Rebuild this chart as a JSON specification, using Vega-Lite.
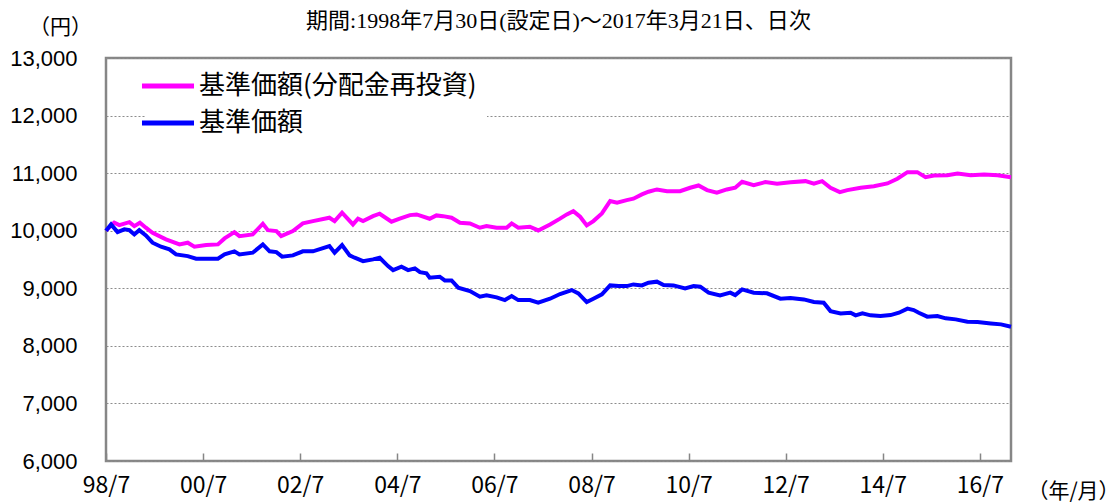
{
  "$schema": "https://vega.github.io/schema/vega-lite/v6.json",
  "width": 905,
  "height": 403,
  "autosize": {"type": "none"},
  "padding": {"left": 106, "top": 58, "right": 108, "bottom": 41},
  "background": "white",
  "title": {
    "text": "期間:1998年7月30日(設定日)～2017年3月21日、日次",
    "font": "Liberation Serif, Noto Sans CJK JP",
    "fontSize": 22,
    "fontWeight": "normal",
    "color": "#000000",
    "anchor": "middle",
    "frame": "group",
    "offset": -17
  },
  "config": {
    "view": {"stroke": "#868686", "strokeWidth": 2.5},
    "axis": {"gridColor": "#8c8c8c", "gridDash": [2, 2], "gridWidth": 1, "labelColor": "#000000", "titleColor": "#000000"}
  },
  "datasets": {
    "reinvest": [
      {"date": "1998-07-30", "price": 10000},
      {"date": "1998-09-06", "price": 10090},
      {"date": "1998-09-30", "price": 10139},
      {"date": "1998-11-07", "price": 10097},
      {"date": "1999-01-22", "price": 10149},
      {"date": "1999-02-28", "price": 10080},
      {"date": "1999-04-11", "price": 10139},
      {"date": "1999-05-26", "price": 10052},
      {"date": "1999-07-15", "price": 9965},
      {"date": "1999-10-24", "price": 9849},
      {"date": "2000-02-03", "price": 9762},
      {"date": "2000-04-05", "price": 9792},
      {"date": "2000-05-25", "price": 9722},
      {"date": "2000-08-22", "price": 9750},
      {"date": "2000-11-18", "price": 9762},
      {"date": "2001-01-07", "price": 9866},
      {"date": "2001-03-22", "price": 9976},
      {"date": "2001-04-29", "price": 9906},
      {"date": "2001-08-07", "price": 9936},
      {"date": "2001-10-22", "price": 10121},
      {"date": "2001-11-29", "price": 10010},
      {"date": "2002-02-01", "price": 9993},
      {"date": "2002-03-09", "price": 9906},
      {"date": "2002-06-05", "price": 9993},
      {"date": "2002-08-19", "price": 10127},
      {"date": "2002-11-03", "price": 10167},
      {"date": "2003-03-07", "price": 10226},
      {"date": "2003-04-15", "price": 10167},
      {"date": "2003-06-10", "price": 10312},
      {"date": "2003-08-31", "price": 10109},
      {"date": "2003-10-08", "price": 10208},
      {"date": "2003-11-15", "price": 10167},
      {"date": "2004-01-29", "price": 10253},
      {"date": "2004-03-19", "price": 10295},
      {"date": "2004-06-16", "price": 10156},
      {"date": "2004-08-17", "price": 10208},
      {"date": "2004-11-02", "price": 10271},
      {"date": "2004-12-22", "price": 10283},
      {"date": "2005-03-30", "price": 10208},
      {"date": "2005-05-20", "price": 10266},
      {"date": "2005-07-09", "price": 10253},
      {"date": "2005-09-11", "price": 10226},
      {"date": "2005-11-13", "price": 10139},
      {"date": "2006-01-27", "price": 10127},
      {"date": "2006-04-12", "price": 10052},
      {"date": "2006-06-01", "price": 10080},
      {"date": "2006-08-16", "price": 10052},
      {"date": "2006-10-30", "price": 10052},
      {"date": "2006-12-07", "price": 10127},
      {"date": "2007-01-26", "price": 10052},
      {"date": "2007-04-23", "price": 10069},
      {"date": "2007-06-25", "price": 10005},
      {"date": "2007-09-22", "price": 10109},
      {"date": "2007-12-06", "price": 10210},
      {"date": "2008-01-26", "price": 10283},
      {"date": "2008-03-15", "price": 10340},
      {"date": "2008-05-05", "price": 10243},
      {"date": "2008-06-24", "price": 10092},
      {"date": "2008-08-13", "price": 10167},
      {"date": "2008-10-16", "price": 10300},
      {"date": "2008-12-17", "price": 10514},
      {"date": "2009-02-07", "price": 10486},
      {"date": "2009-04-21", "price": 10531},
      {"date": "2009-06-10", "price": 10556},
      {"date": "2009-08-13", "price": 10630},
      {"date": "2009-10-02", "price": 10677},
      {"date": "2009-12-04", "price": 10717},
      {"date": "2010-02-18", "price": 10687},
      {"date": "2010-05-27", "price": 10687},
      {"date": "2010-08-11", "price": 10746},
      {"date": "2010-10-13", "price": 10786},
      {"date": "2010-12-16", "price": 10705},
      {"date": "2011-02-28", "price": 10660},
      {"date": "2011-05-14", "price": 10717},
      {"date": "2011-07-16", "price": 10746},
      {"date": "2011-09-06", "price": 10850},
      {"date": "2011-12-02", "price": 10792},
      {"date": "2012-02-28", "price": 10844},
      {"date": "2012-05-26", "price": 10816},
      {"date": "2012-09-04", "price": 10840},
      {"date": "2012-12-26", "price": 10861},
      {"date": "2013-02-27", "price": 10816},
      {"date": "2013-04-30", "price": 10861},
      {"date": "2013-07-02", "price": 10746},
      {"date": "2013-09-10", "price": 10670},
      {"date": "2013-11-06", "price": 10705},
      {"date": "2014-02-14", "price": 10746},
      {"date": "2014-05-24", "price": 10774},
      {"date": "2014-09-03", "price": 10821},
      {"date": "2014-11-17", "price": 10903},
      {"date": "2015-02-01", "price": 11017},
      {"date": "2015-04-16", "price": 11017},
      {"date": "2015-06-17", "price": 10930},
      {"date": "2015-08-19", "price": 10960},
      {"date": "2015-11-28", "price": 10965},
      {"date": "2016-02-13", "price": 10995},
      {"date": "2016-05-22", "price": 10965},
      {"date": "2016-08-31", "price": 10977},
      {"date": "2016-12-10", "price": 10965},
      {"date": "2017-03-21", "price": 10930}
    ],
    "nav": [
      {"date": "1998-07-30", "price": 10000},
      {"date": "1998-09-06", "price": 10109},
      {"date": "1998-10-25", "price": 9976},
      {"date": "1998-12-15", "price": 10023},
      {"date": "1999-01-22", "price": 10010},
      {"date": "1999-02-28", "price": 9936},
      {"date": "1999-04-06", "price": 10010},
      {"date": "1999-05-26", "price": 9918},
      {"date": "1999-07-15", "price": 9792},
      {"date": "1999-09-17", "price": 9722},
      {"date": "1999-11-19", "price": 9675},
      {"date": "2000-01-08", "price": 9589},
      {"date": "2000-04-05", "price": 9559},
      {"date": "2000-06-07", "price": 9514},
      {"date": "2000-09-16", "price": 9514},
      {"date": "2000-11-18", "price": 9514},
      {"date": "2001-01-07", "price": 9589},
      {"date": "2001-03-22", "price": 9642},
      {"date": "2001-04-29", "price": 9589},
      {"date": "2001-08-07", "price": 9618},
      {"date": "2001-10-22", "price": 9762},
      {"date": "2001-12-12", "price": 9642},
      {"date": "2002-02-01", "price": 9628},
      {"date": "2002-03-16", "price": 9549},
      {"date": "2002-06-05", "price": 9571},
      {"date": "2002-08-19", "price": 9642},
      {"date": "2002-11-03", "price": 9642},
      {"date": "2003-03-07", "price": 9733},
      {"date": "2003-04-15", "price": 9618},
      {"date": "2003-06-10", "price": 9750},
      {"date": "2003-08-06", "price": 9571},
      {"date": "2003-09-13", "price": 9531},
      {"date": "2003-11-15", "price": 9472},
      {"date": "2004-01-29", "price": 9502},
      {"date": "2004-03-19", "price": 9531},
      {"date": "2004-05-21", "price": 9385},
      {"date": "2004-06-28", "price": 9316},
      {"date": "2004-08-30", "price": 9375},
      {"date": "2004-10-19", "price": 9316},
      {"date": "2004-12-09", "price": 9346},
      {"date": "2005-01-16", "price": 9281},
      {"date": "2005-03-06", "price": 9259},
      {"date": "2005-03-30", "price": 9184},
      {"date": "2005-06-14", "price": 9201},
      {"date": "2005-07-22", "price": 9137},
      {"date": "2005-09-11", "price": 9137},
      {"date": "2005-10-31", "price": 9010},
      {"date": "2006-01-27", "price": 8951},
      {"date": "2006-04-12", "price": 8854},
      {"date": "2006-06-01", "price": 8877},
      {"date": "2006-08-16", "price": 8842},
      {"date": "2006-10-17", "price": 8795},
      {"date": "2006-12-07", "price": 8865},
      {"date": "2007-01-26", "price": 8795},
      {"date": "2007-04-23", "price": 8795},
      {"date": "2007-06-25", "price": 8750},
      {"date": "2007-09-22", "price": 8819},
      {"date": "2007-12-06", "price": 8900},
      {"date": "2008-03-03", "price": 8969},
      {"date": "2008-04-22", "price": 8912},
      {"date": "2008-06-24", "price": 8761},
      {"date": "2008-08-13", "price": 8819},
      {"date": "2008-10-16", "price": 8894},
      {"date": "2008-12-17", "price": 9050},
      {"date": "2009-02-19", "price": 9038},
      {"date": "2009-04-21", "price": 9038},
      {"date": "2009-06-10", "price": 9067},
      {"date": "2009-08-13", "price": 9050},
      {"date": "2009-10-02", "price": 9097},
      {"date": "2009-12-04", "price": 9115},
      {"date": "2010-01-23", "price": 9056},
      {"date": "2010-04-08", "price": 9050},
      {"date": "2010-07-04", "price": 8998},
      {"date": "2010-09-06", "price": 9038},
      {"date": "2010-10-26", "price": 9028},
      {"date": "2010-12-28", "price": 8924},
      {"date": "2011-03-24", "price": 8877},
      {"date": "2011-06-09", "price": 8924},
      {"date": "2011-07-16", "price": 8882},
      {"date": "2011-09-06", "price": 8981},
      {"date": "2011-12-02", "price": 8924},
      {"date": "2012-03-11", "price": 8912},
      {"date": "2012-06-20", "price": 8819},
      {"date": "2012-09-04", "price": 8830},
      {"date": "2012-12-13", "price": 8807},
      {"date": "2013-02-27", "price": 8761},
      {"date": "2013-05-12", "price": 8750},
      {"date": "2013-07-02", "price": 8604},
      {"date": "2013-09-16", "price": 8564},
      {"date": "2013-11-30", "price": 8576},
      {"date": "2014-01-07", "price": 8530},
      {"date": "2014-02-27", "price": 8564},
      {"date": "2014-04-29", "price": 8530},
      {"date": "2014-07-13", "price": 8518},
      {"date": "2014-09-27", "price": 8535},
      {"date": "2014-11-29", "price": 8576},
      {"date": "2015-02-01", "price": 8646},
      {"date": "2015-03-20", "price": 8622},
      {"date": "2015-04-27", "price": 8576},
      {"date": "2015-06-30", "price": 8507},
      {"date": "2015-09-14", "price": 8518},
      {"date": "2015-11-16", "price": 8478},
      {"date": "2016-01-30", "price": 8460},
      {"date": "2016-04-27", "price": 8420},
      {"date": "2016-07-12", "price": 8413},
      {"date": "2016-10-20", "price": 8390},
      {"date": "2017-01-05", "price": 8373},
      {"date": "2017-03-21", "price": 8333}
    ]
  },
  "encoding": {
    "x": {
      "field": "date",
      "type": "temporal",
      "scale": {"type": "utc", "domain": [{"year": 1998, "month": 7, "date": 30, "utc": true}, {"year": 2017, "month": 3, "date": 21, "utc": true}], "nice": false},
      "axis": {
        "values": [
          {"year": 1998, "month": 7, "date": 30, "utc": true},
          {"year": 2000, "month": 7, "date": 30, "utc": true},
          {"year": 2002, "month": 7, "date": 30, "utc": true},
          {"year": 2004, "month": 7, "date": 30, "utc": true},
          {"year": 2006, "month": 7, "date": 30, "utc": true},
          {"year": 2008, "month": 7, "date": 30, "utc": true},
          {"year": 2010, "month": 7, "date": 30, "utc": true},
          {"year": 2012, "month": 7, "date": 30, "utc": true},
          {"year": 2014, "month": 7, "date": 30, "utc": true},
          {"year": 2016, "month": 7, "date": 30, "utc": true}
        ],
        "labelExpr": "utcFormat(datum.value, '%y/%-m')",
        "grid": false,
        "domain": false,
        "tickSize": -8,
        "tickColor": "#868686",
        "tickWidth": 1.5,
        "labelFont": "Noto Sans CJK JP",
        "labelFontSize": 23,
        "labelPadding": 21,
        "labelFlush": false,
        "labelOverlap": false,
        "title": "（年/月）",
        "titleFont": "Noto Sans CJK JP",
        "titleFontSize": 21,
        "titleFontWeight": "normal",
        "titleAnchor": null,
        "titleX": 967,
        "titleY": 30,
        "titleAlign": "center",
        "titleBaseline": "middle"
      }
    },
    "y": {
      "field": "price",
      "type": "quantitative",
      "scale": {"domain": [6000, 13000], "nice": false, "zero": false},
      "axis": {
        "values": [6000, 7000, 8000, 9000, 10000, 11000, 12000, 13000],
        "format": ",d",
        "grid": true,
        "domain": false,
        "ticks": false,
        "labelFont": "Liberation Sans",
        "labelFontSize": 22,
        "labelPadding": 29,
        "title": "（円）",
        "titleFont": "Noto Sans CJK JP",
        "titleFontSize": 21,
        "titleFontWeight": "normal",
        "titleAngle": 0,
        "titleAnchor": null,
        "titleX": -46,
        "titleY": -31,
        "titleAlign": "center",
        "titleBaseline": "middle"
      }
    },
    "color": {
      "type": "nominal",
      "scale": {"domain": ["基準価額(分配金再投資)", "基準価額"], "range": ["#FF00FF", "#0000FF"]},
      "legend": {
        "title": null,
        "orient": "none",
        "legendX": 39,
        "legendY": 5,
        "direction": "vertical",
        "fillColor": "white",
        "padding": 10,
        "symbolType": "M-2.5,0H2.5",
        "symbolSize": 433,
        "symbolStrokeWidth": 5,
        "labelFont": "Noto Sans CJK JP",
        "labelFontSize": 26,
        "labelOffset": 18,
        "labelLimit": 500,
        "rowPadding": 11
      }
    }
  },
  "layer": [
    {
      "data": {"name": "reinvest"},
      "mark": {"type": "line", "strokeWidth": 4, "interpolate": "linear"},
      "encoding": {"color": {"datum": "基準価額(分配金再投資)"}}
    },
    {
      "data": {"name": "nav"},
      "mark": {"type": "line", "strokeWidth": 4, "interpolate": "linear"},
      "encoding": {"color": {"datum": "基準価額"}}
    }
  ]
}
